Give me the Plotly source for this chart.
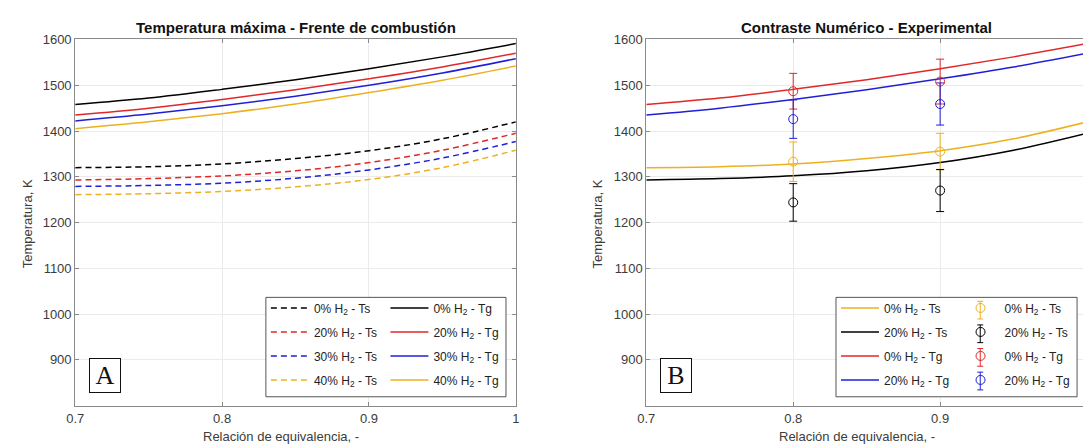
import plotly.graph_objects as go

W, H = 1087, 445

# ---------------- data ----------------
PHI = [0.70, 0.75, 0.80, 0.85, 0.90, 0.95, 1.00]
TS_0 = [1320, 1322, 1328, 1340, 1357, 1383, 1420]
TS_20 = [1293, 1296, 1302, 1313, 1331, 1358, 1395]
TS_30 = [1279, 1281, 1286, 1297, 1315, 1341, 1377]
TS_40 = [1261, 1263, 1268, 1278, 1294, 1320, 1358]
TG_0 = [1458, 1472, 1491, 1512, 1536, 1562, 1591]
TG_20 = [1435, 1450, 1469, 1490, 1514, 1540, 1570]
TG_30 = [1422, 1437, 1455, 1476, 1500, 1527, 1558]
TG_40 = [1405, 1420, 1438, 1459, 1484, 1511, 1542]

EXP_PHI = [0.8, 0.9]
EXP_TS_0 = [1333, 1355]
ERR_TS_0 = [43, 40]
EXP_TS_20 = [1244, 1270]
ERR_TS_20 = [41, 46]
EXP_TG_0 = [1487, 1508]
ERR_TG_0 = [39, 49]
EXP_TG_20 = [1426, 1459]
ERR_TG_20 = [42, 46]

X_TICKS = [0.7, 0.8, 0.9, 1.0]
X_TICK_TEXT = ["0.7", "0.8", "0.9", "1"]
Y_TICKS = [900, 1000, 1100, 1200, 1300, 1400, 1500, 1600]

# ---------------- styles ----------------
BLACK = "#000000"
RED = "#e02828"
BLUE = "#1f1fd8"
YELLOW = "#EDB120"
FONT = "Liberation Sans"
TICKC = "#3c3c3c"
AXC = "#8a8a8a"
GRIDC = "#ebebeb"
DASH = "6px,4px"


def lab(p, t):
    return f"{p}% H<sub>2</sub> - {t}"


fig = go.Figure()

# ---- left panel ----
left_ts = [(TS_0, BLACK, "0"), (TS_20, RED, "20"), (TS_30, BLUE, "30"), (TS_40, YELLOW, "40")]
left_tg = [(TG_0, BLACK, "0"), (TG_20, RED, "20"), (TG_30, BLUE, "30"), (TG_40, YELLOW, "40")]
k = 0
for ys, c, p in left_ts:
    fig.add_trace(go.Scatter(x=PHI, y=ys, mode="lines", line=dict(color=c, width=1.5, dash=DASH, shape="spline"),
                             name=lab(p, "Ts"), legend="legend", legendgroup=f"g{k}", xaxis="x", yaxis="y"))
    k += 1
for ys, c, p in left_tg:
    fig.add_trace(go.Scatter(x=PHI, y=ys, mode="lines", line=dict(color=c, width=1.5, shape="spline"),
                             name=lab(p, "Tg"), legend="legend2", legendgroup=f"g{k}", xaxis="x", yaxis="y"))
    k += 1

# ---- right panel ----
right_lines = [(TS_0, YELLOW, lab(0, "Ts")), (TS_20, BLACK, lab(20, "Ts")),
               (TG_0, RED, lab(0, "Tg")), (TG_20, BLUE, lab(20, "Tg"))]
for ys, c, n in right_lines:
    fig.add_trace(go.Scatter(x=PHI, y=ys, mode="lines", line=dict(color=c, width=1.5, shape="spline"),
                             name=n, legend="legend3", legendgroup=f"g{k}", xaxis="x2", yaxis="y2"))
    k += 1
right_pts = [(EXP_TS_0, ERR_TS_0, YELLOW, lab(0, "Ts")), (EXP_TS_20, ERR_TS_20, BLACK, lab(20, "Ts")),
             (EXP_TG_0, ERR_TG_0, RED, lab(0, "Tg")), (EXP_TG_20, ERR_TG_20, BLUE, lab(20, "Tg"))]
for ys, er, c, n in right_pts:
    fig.add_trace(go.Scatter(x=EXP_PHI, y=ys, mode="markers",
                             marker=dict(symbol="circle-open", size=9, color=c, line=dict(width=1)),
                             error_y=dict(type="data", array=er, visible=True, color=c, thickness=1, width=4),
                             name=n, legend="legend4", legendgroup=f"g{k}", xaxis="x2", yaxis="y2"))
    k += 1

# ---------------- axes ----------------
Y_TOP, Y_BOT = 33, 405
ydom = [1 - Y_BOT / H, 1 - Y_TOP / H]
common_x = dict(tickvals=X_TICKS, ticktext=X_TICK_TEXT, showgrid=True, gridcolor=GRIDC, zeroline=False,
                showline=True, linecolor=AXC, linewidth=1, ticks="inside", ticklen=4, tickcolor=AXC,
                ticklabelstandoff=1,
                tickfont=dict(family=FONT, size=13, color=TICKC))
common_y = dict(range=[800, 1600], tickvals=Y_TICKS, showgrid=True, gridcolor=GRIDC, zeroline=False,
                showline=True, linecolor=AXC, linewidth=1, ticks="inside", ticklen=4, tickcolor=AXC,
                tickfont=dict(family=FONT, size=13, color=TICKC), domain=ydom)

right_max = 0.7 + (W - 645) / 1487.0

fig.update_layout(
    width=W, height=H, margin=dict(l=0, r=0, t=0, b=0),
    paper_bgcolor="white", plot_bgcolor="white", showlegend=True,
    xaxis=dict(common_x, domain=[67 / W, 513 / W], range=[0.7, 1.0], mirror="ticks", anchor="y"),
    yaxis=dict(common_y, mirror="ticks", anchor="x"),
    xaxis2=dict(common_x, domain=[645 / W, 1.0], range=[0.7, right_max], mirror="ticks", anchor="y2"),
    yaxis2=dict(common_y, mirror=False, anchor="x2"),
)

LEG_TOP = 291
leg_common = dict(bgcolor="rgba(0,0,0,0)", borderwidth=0, font=dict(family=FONT, size=12, color="#222"),
                  xanchor="left", yanchor="top", itemwidth=38, tracegroupgap=5, itemclick=False,
                  itemdoubleclick=False)
fig.update_layout(
    legend=dict(leg_common, x=260 / W, y=1 - LEG_TOP / H),
    legend2=dict(leg_common, x=381 / W, y=1 - LEG_TOP / H),
    legend3=dict(leg_common, x=837 / W, y=1 - LEG_TOP / H),
    legend4=dict(leg_common, x=959 / W, y=1 - LEG_TOP / H),
)

# legend boxes
for x0, x1 in [(260, 503), (837, 1081)]:
    fig.add_shape(type="rect", xref="paper", yref="paper", x0=x0 / W, x1=x1 / W,
                  y0=1 - 396 / H, y1=1 - 295 / H, line=dict(color="#555", width=1),
                  fillcolor="white", layer="above")

# error-bar glyphs behind the legend markers (column 2 of legend B)
GLYPH_COLORS = [YELLOW, BLACK, RED, BLUE]
for i, c in enumerate(GLYPH_COLORS):
    yc = 308 + 24 * i
    xc = 983
    fig.add_shape(type="line", xref="paper", yref="paper", x0=xc / W, x1=xc / W,
                  y0=1 - (yc - 9) / H, y1=1 - (yc + 9) / H, line=dict(color=c, width=1), layer="above")
    for dy in (-9, 9):
        fig.add_shape(type="line", xref="paper", yref="paper", x0=(xc - 3) / W, x1=(xc + 3) / W,
                      y0=1 - (yc + dy) / H, y1=1 - (yc + dy) / H, line=dict(color=c, width=1), layer="above")

# titles and axis labels
ann = []
ann.append(dict(text="<b>Temperatura máxima - Frente de combustión</b>", x=290 / W, y=1 - 21 / H,
                font=dict(family=FONT, size=15, color="#111")))
ann.append(dict(text="<b>Contraste Numérico - Experimental</b>", x=868 / W, y=1 - 21 / H,
                font=dict(family=FONT, size=15, color="#111")))
for xc in [275, 858]:
    ann.append(dict(text="Relación de equivalencia, -", x=xc / W, y=1 - 436 / H,
                    font=dict(family=FONT, size=13, color=TICKC)))
for xc in [19, 596]:
    ann.append(dict(text="Temperatura, K", x=xc / W, y=1 - 220 / H, textangle=-90,
                    font=dict(family=FONT, size=13, color=TICKC)))
for a in ann:
    a.update(xref="paper", yref="paper", showarrow=False, xanchor="center", yanchor="middle")
    fig.add_annotation(**a)

for txt, xc in [("A", 97.5), ("B", 675)]:
    fig.add_annotation(text=txt, xref="paper", yref="paper", x=xc / W, y=1 - 374 / H, showarrow=False,
                       xanchor="center", yanchor="middle", font=dict(family="Liberation Serif", size=26, color="#111"),
                       bordercolor="#111", borderwidth=1, borderpad=0, bgcolor="white", width=30, height=33)

fig.write_html("out.html")
